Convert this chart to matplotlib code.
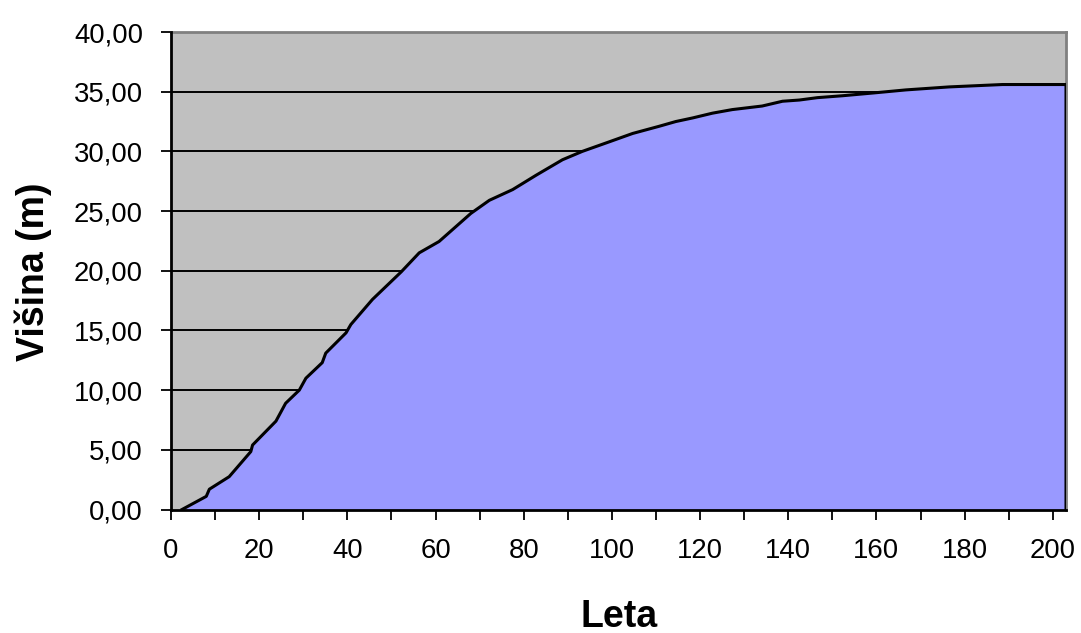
import matplotlib
matplotlib.use("Agg")
import matplotlib.pyplot as plt
from matplotlib.ticker import FuncFormatter, MultipleLocator

# values (age in years -> height in m)
leta = [2.5, 8, 8.7, 13.2, 18.1, 18.5, 23.8, 26, 29.1, 30.6, 34.3, 35.1, 39.7,
        40.8, 45.7, 52.2, 56.3, 60.8, 68, 72.2, 77.5, 82.8, 88.8, 93.3, 99.4,
        104.7, 110.7, 114.5, 118.3, 122.8, 127.3, 134.1, 138.7, 142.5, 146.6,
        152.3, 159.5, 166.7, 176.5, 188.6, 203]
visina = [0, 1.1, 1.7, 2.75, 4.85, 5.4, 7.4, 8.9, 10.0, 11.0, 12.3, 13.1, 14.8,
          15.5, 17.6, 19.9, 21.5, 22.45, 24.8, 25.9, 26.8, 28.0, 29.3, 30.0, 30.8,
          31.5, 32.1, 32.5, 32.8, 33.2, 33.5, 33.8, 34.2, 34.3, 34.5,
          34.66, 34.9, 35.15, 35.4, 35.6, 35.6]

plt.rcParams['font.family'] = ['Liberation Sans', 'DejaVu Sans']

W, H = 1081, 633
fig = plt.figure(figsize=(W / 100, H / 100), dpi=100)
ax = fig.add_axes([171 / W, 123.5 / H, (1066 - 171) / W, (509.5 - 32) / H])
ax.set_facecolor('#C0C0C0')

ax.fill_between(leta, visina, 0, color='#9999FF', lw=0, zorder=2)
ax.plot(leta + [leta[-1]], visina + [0], color='black', lw=2.2, zorder=3)

ax.set_xlim(0, 203)
ax.set_ylim(0, 40)

# gridlines behind the area
for yv in range(5, 40, 5):
    ax.axhline(yv, color='black', lw=1.4, zorder=1)

ax.xaxis.set_major_locator(MultipleLocator(20))
ax.xaxis.set_minor_locator(MultipleLocator(10))
ax.yaxis.set_major_locator(MultipleLocator(5))
ax.yaxis.set_major_formatter(FuncFormatter(lambda v, p: f"{v:.2f}".replace('.', ',')))

ax.tick_params(axis='both', which='both', direction='out', length=7.2, width=1.3,
               color='black', labelsize=19.8, labelcolor='black')
ax.tick_params(axis='x', which='both', pad=13)
ax.tick_params(axis='y', pad=13)

for s in ['left', 'bottom']:
    ax.spines[s].set_color('black')
    ax.spines[s].set_linewidth(2)
    ax.spines[s].set_zorder(4)
for s in ['top', 'right']:
    ax.spines[s].set_color('#808080')
    ax.spines[s].set_linewidth(2)

fig.text(619 / W, 1 - 617 / H, 'Leta', fontsize=27, fontweight='bold',
         ha='center', va='center')
fig.text(33 / W, 1 - 272 / H, 'Višina (m)', fontsize=27, fontweight='bold',
         rotation=90, ha='center', va='center')

fig.savefig('out.png', dpi=100, facecolor='white')
